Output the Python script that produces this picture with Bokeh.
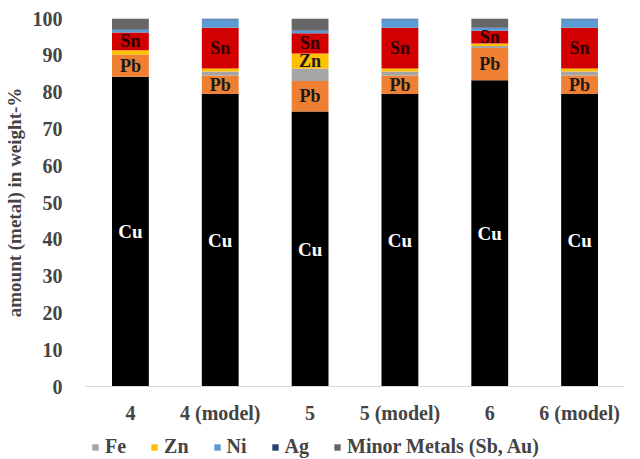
import numpy as np
from bokeh.plotting import figure
from bokeh.layouts import column
from bokeh.models import Legend, LegendItem, ColumnDataSource, SingleIntervalTicker
from bokeh.core.properties import value
from bokeh.embed import file_html
from bokeh.resources import INLINE

categories = ["4", "4 (model)", "5", "5 (model)", "6", "6 (model)"]
Cu = [84.2, 79.5, 74.7, 79.5, 83.2, 79.5]
Pb = [6.0, 5.0, 8.3, 5.0, 8.8, 5.0]
Fe = [0.0, 1.1, 3.4, 1.1, 0.5, 1.1]
Zn = [1.2, 0.8, 4.1, 0.8, 0.7, 0.8]
Sn = [4.8, 11.1, 5.5, 11.1, 3.5, 11.1]
Ni = [0.7, 2.2, 0.7, 2.2, 0.7, 2.2]
Ag = [0.1, 0.3, 0.1, 0.3, 0.1, 0.3]
Minor = [3.0, 0.0, 3.2, 0.0, 2.5, 0.0]

series = ["Cu", "Pb", "Fe", "Zn", "Sn", "Ni", "Ag", "Minor"]
colors = ["#000000", "#EE7F33", "#A5A5A5", "#FFC000", "#D20000",
          "#5B9BD5", "#264478", "#666666"]
legend_series = ["Fe", "Zn", "Ni", "Ag", "Minor"]
legend_labels = ["Fe", "Zn", "Ni", "Ag", "Minor Metals (Sb, Au)"]

data = {"cat": categories, "Cu": Cu, "Pb": Pb, "Fe": Fe, "Zn": Zn,
        "Sn": Sn, "Ni": Ni, "Ag": Ag, "Minor": Minor}
src = ColumnDataSource(data)

FONT = "Liberation Serif"

p = figure(x_range=categories, y_range=(0, 100), width=624, height=426,
           output_backend="svg", toolbar_location=None,
           min_border_top=18, min_border_left=80, min_border_right=0,
           min_border_bottom=0)
p.outline_line_color = None
p.xgrid.grid_line_color = None
p.ygrid.grid_line_color = None
p.x_range.range_padding = 0.0

rs = p.vbar_stack(series, x="cat", width=0.41, color=colors, source=src,
                  line_color=None)

# labels centred in their segments
vals = np.array([data[s] for s in series])
cum = np.cumsum(vals, axis=0)
bottoms = cum - vals
mids = bottoms + vals / 2.0

def add_labels(name, idxs, color, size):
    i = series.index(name)
    xs = [categories[j] for j in idxs]
    ys = [mids[i][j] for j in idxs]
    p.text(x=xs, y=ys, text=[name] * len(xs), text_color=color,
           text_font=value(FONT), text_font_style="bold",
           text_font_size=size, text_align="center", text_baseline="middle")

add_labels("Cu", range(6), "white", "19px")
add_labels("Pb", range(6), "#1a1a1a", "18px")
add_labels("Sn", range(6), "#2a0000", "18px")
add_labels("Zn", [2], "#1a1a1a", "18px")

p.yaxis.ticker = SingleIntervalTicker(interval=10)
p.yaxis.axis_label = "amount (metal) in weight-%"
p.yaxis.axis_label_text_font = FONT
p.yaxis.axis_label_text_font_style = "bold"
p.yaxis.axis_label_text_font_size = "19px"
p.yaxis.axis_label_standoff = 5
p.yaxis.major_label_text_font = FONT
p.yaxis.major_label_text_font_style = "bold"
p.yaxis.major_label_text_font_size = "20px"
p.yaxis.axis_line_color = None
p.yaxis.major_tick_line_color = None
p.yaxis.minor_tick_line_color = None
p.yaxis.major_label_standoff = 17

p.xaxis.major_label_text_font = FONT
p.xaxis.major_label_text_font_style = "bold"
p.xaxis.major_label_text_font_size = "20px"
p.xaxis.axis_line_color = "#d9d9d9"
p.xaxis.major_tick_line_color = None
p.xaxis.major_label_standoff = 9

# legend in a separate strip below (its frame aligns with the main frame)
p2 = figure(width=624, height=32, x_range=(0, 1), y_range=(0, 1),
            output_backend="svg", toolbar_location=None,
            min_border=0)
p2.axis.visible = False
p2.grid.grid_line_color = None
p2.outline_line_color = None
items = []
for name, lab in zip(legend_series, legend_labels):
    c = colors[series.index(name)]
    r = p2.vbar(x=[5], top=[-1], width=0.1, color=c, line_color=None)
    items.append(LegendItem(label=lab, renderers=[r]))
legend = Legend(items=items, orientation="horizontal",
                label_text_font=FONT, label_text_font_style="bold",
                label_text_font_size="20px", glyph_width=8, glyph_height=8,
                spacing=24, label_standoff=6, border_line_color=None,
                padding=2, margin=0, background_fill_alpha=0)
legend.location = (6, 0)
p2.add_layout(legend)

layout = column(p, p2, spacing=0)
open("out.html", "w").write(file_html(layout, INLINE))
